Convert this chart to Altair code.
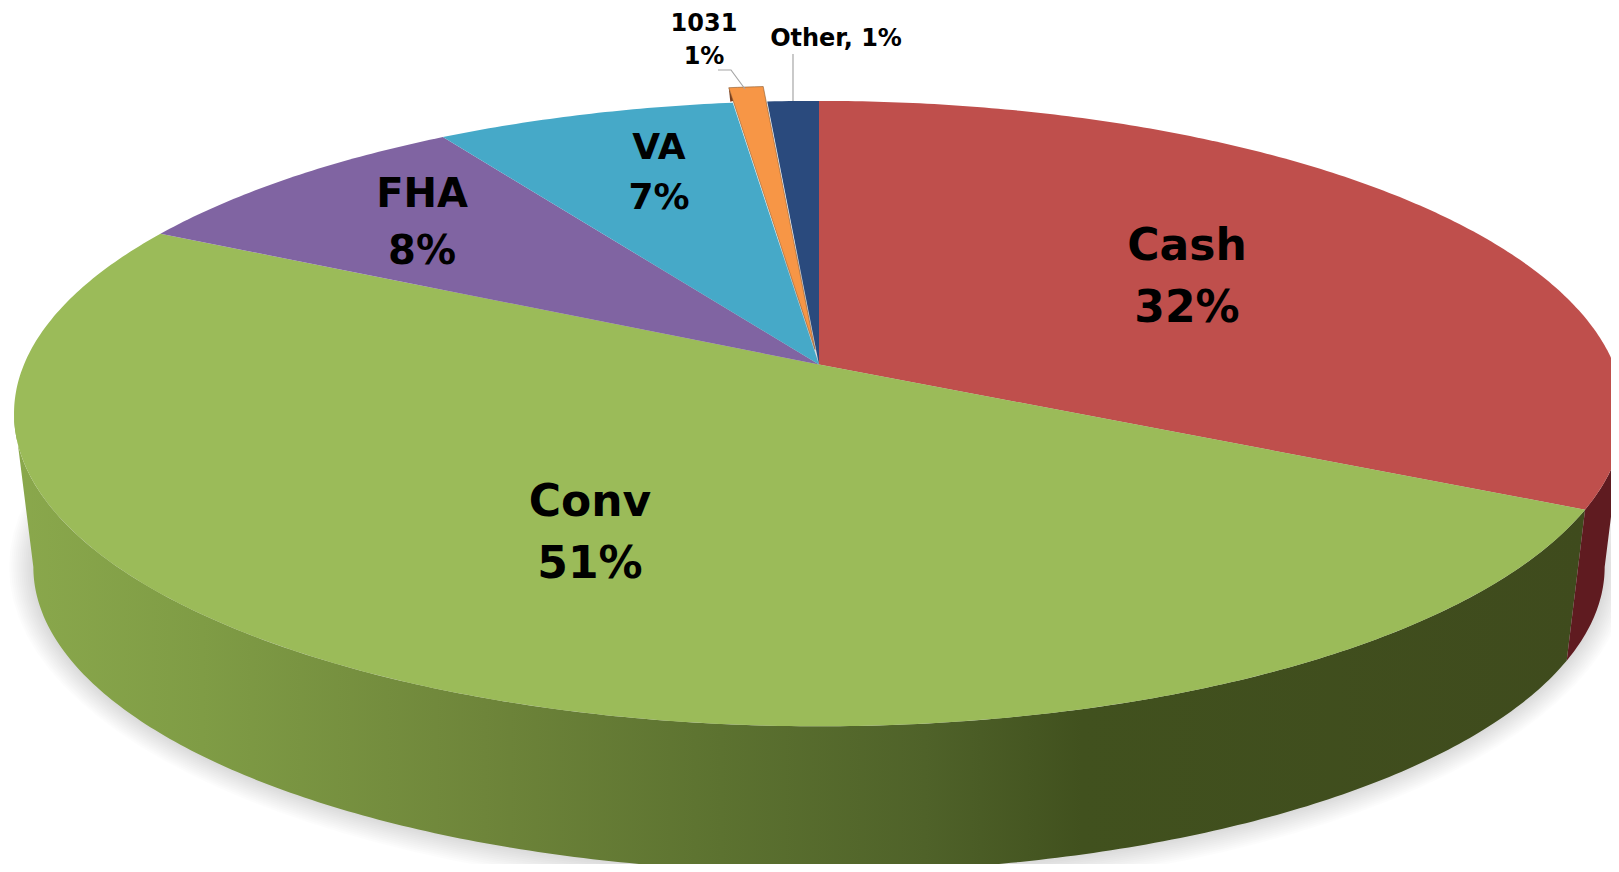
import math
import altair as alt

# ---- data ----
categories = ["Cash", "Conv", "FHA", "VA", "1031", "Other"]
shares = [32.3, 50.3, 8.4, 7.0, 0.8, 1.2]
colors = ["#BF4F4C", "#9BBB59", "#8064A2", "#46A9C8", "#F79646", "#2A4A7D"]
label_lines = [["Cash", "32%"], ["Conv", "51%"], ["FHA", "8%"], ["VA", "7%"], ["1031", "1%"], ["Other, 1%"]]
label_x = [1187, 590, 422, 659, 704, 836]
label_y = [[247, 309], [503, 565], [195, 252], [148, 198], [24, 57], [39]]
label_size = [44, 44, 40, 36, 24, 24]

# ---- pie geometry, in page pixels ----
CX, CY, A, B, P = 819.0, 364.5, 795.0, 305.0, 0.157
LOW_SCALE, LOW_CY = 0.976, 519.0
SIDE = 100 * math.acos(-P) / (2 * math.pi)  # rim position of the pie's silhouette


def rim(pct, low=False):
    th = 2 * math.pi * pct / 100
    u, v = math.sin(th), math.cos(th)
    w = 1 + P * v
    if low:
        return [CX + LOW_SCALE * A * u / w, LOW_CY - LOW_SCALE * B * v / w]
    return [CX + A * u / w, CY - B * v / w]


def arc(p0, p1, low=False):
    n = max(2, int(abs(p1 - p0) * 6))
    return [rim(p0 + (p1 - p0) * i / n, low) for i in range(n + 1)]


def feature(coords, closed=True):
    if closed:
        geom = {"type": "Polygon", "coordinates": [coords + [coords[0]]]}
    else:
        geom = {"type": "LineString", "coordinates": coords}
    return {"type": "Feature", "properties": {}, "geometry": geom}


PROJ = alt.Projection(type="identity", scale=1, translate=[-8, -8])


def shape(coords, closed=True, **mark):
    return (
        alt.Chart(alt.Data(values=[feature(coords, closed)]))
        .mark_geoshape(**mark)
        .project(**PROJ.to_dict())
    )


starts = [sum(shares[:i]) for i in range(len(shares))]
ends = [sum(shares[: i + 1]) for i in range(len(shares))]
layers = []

# soft shadow under the pie
low_mid_y = LOW_CY + 48
for i in range(12):
    grow = 1 - i / 12
    rx, ry = 786 + 24 * grow, 305 + 24 * grow
    pts = [
        [CX + rx * math.cos(k * math.pi / 60), low_mid_y + ry * math.sin(k * math.pi / 60)]
        for k in range(120)
    ]
    layers.append(shape(pts, fill="#000000", fillOpacity=0.013, stroke=None))

# side wall
conv_gradient = {
    "gradient": "linear", "x1": 0, "y1": 0, "x2": 1, "y2": 0,
    "stops": [
        {"offset": 0.0, "color": "#8AA84C"},
        {"offset": 0.12, "color": "#7F9C45"},
        {"offset": 0.3, "color": "#6E853A"},
        {"offset": 0.45, "color": "#5C7230"},
        {"offset": 0.58, "color": "#4F6229"},
        {"offset": 0.68, "color": "#41511E"},
        {"offset": 1.0, "color": "#3F4B1D"},
    ],
}
LEFT = 100 - SIDE
wall_conv = arc(starts[1], LEFT) + arc(starts[1], LEFT, True)[::-1]
layers.append(shape(wall_conv, fill=conv_gradient, stroke=None))
wall_cash = arc(SIDE, ends[0]) + arc(SIDE, ends[0], True)[::-1]
layers.append(shape(wall_cash, fill="#5F1B20", stroke=None))

# top face
for i in [0, 1, 2, 3, 5]:
    layers.append(shape([[CX, CY]] + arc(starts[i], ends[i]), fill=colors[i], stroke=None))

# exploded 1031 slice, with the sliver of its cut side
DX, DY = -4, -15
pulled = [[x + DX, y + DY] for x, y in [[CX, CY]] + arc(starts[4], ends[4])]
px, py = pulled[1]
layers.append(shape([[px, py], [px + 1.5, py + 14], [px + 5, py + 13]], fill="#7A3E1E", stroke=None))
layers.append(shape(pulled, fill=colors[4], stroke="#8A5A30", strokeWidth=0.6))

# leader lines
layers.append(shape([[718, 70], [731, 70], [745, 89]], closed=False, fill=None, filled=False, stroke="#A6A6A6", strokeWidth=1.2))
layers.append(shape([[793, 54], [793, 101]], closed=False, fill=None, filled=False, stroke="#A6A6A6", strokeWidth=1.2))

# labels
rows = []
for lines, x, ys, size in zip(label_lines, label_x, label_y, label_size):
    for line, y in zip(lines, ys):
        rows.append({"text": line, "lon": x, "lat": y, "size": size})
for size in sorted(set(label_size)):
    layers.append(
        alt.Chart(alt.Data(values=[r for r in rows if r["size"] == size]))
        .mark_text(font="DejaVu Sans", fontWeight="bold", fontSize=size, color="#000000", baseline="middle", align="center")
        .encode(longitude="lon:Q", latitude="lat:Q", text="text:N")
        .project(**PROJ.to_dict())
    )

chart = (
    alt.layer(*layers)
    .properties(width=1603, height=856, padding=0, autosize=alt.AutoSizeParams(type="none"))
    .configure_view(stroke=None)
    .configure(background="#FFFFFF")
)
chart.save("out.html", embed_options={"renderer": "svg", "actions": False})
